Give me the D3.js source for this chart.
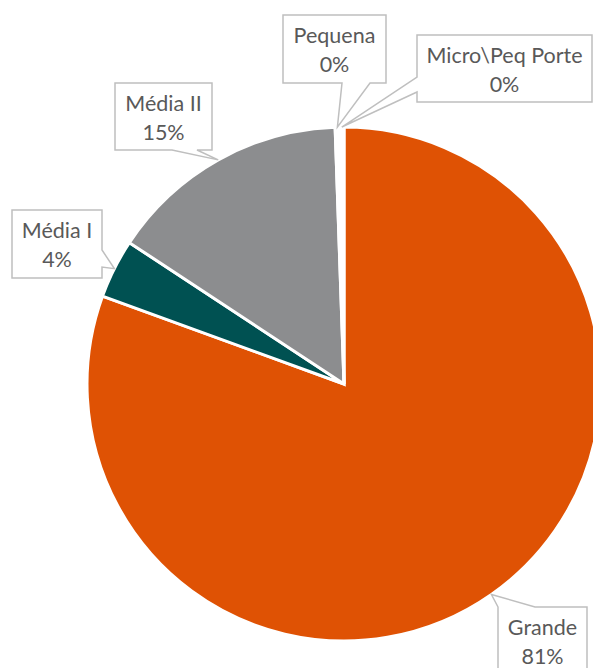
<!DOCTYPE html>
<html lang="pt">
<head>
    <meta charset="utf-8">
    <title>Porte</title>
    <script src="https://cdn.jsdelivr.net/npm/d3@7"></script>
    <style type="text/css">
        body { margin: 0; background: #fff; }
        .callout { fill: #fff; stroke: #bfbfbf; stroke-width: 1.5; }
        .lbl { font-family: Lato, "Open Sans", sans-serif; font-size: 21.5px; fill: #595959; text-anchor: middle; }
    </style>
</head>
<body>
    <div id="chart"></div>
    <script>
        // data
        var categories = ["Grande", "Média I", "Média II", "Pequena", "Micro\\Peq Porte"];
        var values = [80.55, 3.72, 15.18, 0.28, 0.27];
        var percentLabels = ["81%", "4%", "15%", "0%", "0%"];

        var colors = ["#df5204", "#005152", "#8c8d8f", "#ffffff", "#ffffff"];

        // label boxes (x, y, w, h) + side where the pointer sits + pointer base
        var boxes = [
            { x: 498, y: 607, w: 89, h: 70, side: "top", a: 498, b: 535 },
            { x: 12, y: 210, w: 90, h: 68, side: "right", a: 250, b: 267 },
            { x: 115, y: 83, w: 97, h: 67, side: "bottom", a: 172, b: 197 },
            { x: 283, y: 15, w: 103, h: 68, side: "bottom", a: 342, b: 370 },
            { x: 417, y: 35, w: 175, h: 67, side: "left", a: 77, b: 92 }
        ];

        var width = 593, height = 668;
        var cx = 344, cy = 384, radius = 257;

        var svg = d3.select("#chart")
            .append("svg")
            .attr("width", width)
            .attr("height", height);

        var pie = d3.pie().sort(null).value(function (d) { return d; });
        var arcs = pie(values);
        var arc = d3.arc().innerRadius(0).outerRadius(radius);

        var g = svg.append("g").attr("transform", "translate(" + cx + "," + cy + ")");

        g.selectAll("path")
            .data(arcs)
            .enter()
            .append("path")
            .attr("d", arc)
            .attr("fill", function (d, i) { return colors[i]; })
            .attr("stroke", "#fff")
            .attr("stroke-width", 3)
            .attr("stroke-linejoin", "miter");

        // callout path: rectangle with a wedge to the tip
        function calloutPath(b, tip) {
            var x0 = b.x, y0 = b.y, x1 = b.x + b.w, y1 = b.y + b.h;
            var p = d3.path();
            p.moveTo(x0, y0);
            if (b.side == "top") { p.lineTo(b.a, y0); p.lineTo(tip[0], tip[1]); p.lineTo(b.b, y0); }
            p.lineTo(x1, y0);
            if (b.side == "right") { p.lineTo(x1, b.a); p.lineTo(tip[0], tip[1]); p.lineTo(x1, b.b); }
            p.lineTo(x1, y1);
            if (b.side == "bottom") { p.lineTo(b.b, y1); p.lineTo(tip[0], tip[1]); p.lineTo(b.a, y1); }
            p.lineTo(x0, y1);
            if (b.side == "left") { p.lineTo(x0, b.b); p.lineTo(tip[0], tip[1]); p.lineTo(x0, b.a); }
            p.closePath();
            return p.toString();
        }

        var labels = svg.selectAll("g.label")
            .data(arcs)
            .enter()
            .append("g")
            .attr("class", "label");

        labels.append("path")
            .attr("class", "callout")
            .attr("d", function (d, i) {
                var mid = (d.startAngle + d.endAngle) / 2;
                var tip = [cx + radius * Math.sin(mid), cy - radius * Math.cos(mid)];
                return calloutPath(boxes[i], tip);
            });

        labels.append("text")
            .attr("class", "lbl")
            .attr("x", function (d, i) { return boxes[i].x + boxes[i].w / 2; })
            .attr("y", function (d, i) { return boxes[i].y + 28; })
            .text(function (d, i) { return categories[i]; });

        labels.append("text")
            .attr("class", "lbl")
            .attr("x", function (d, i) { return boxes[i].x + boxes[i].w / 2; })
            .attr("y", function (d, i) { return boxes[i].y + 57; })
            .text(function (d, i) { return percentLabels[i]; });
    </script>
</body>
</html>
